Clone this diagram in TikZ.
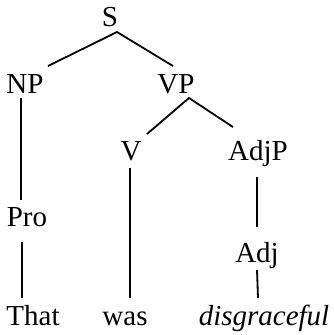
\documentclass[tikz,border=0pt]{standalone}
\usepackage{fontspec}
\setmainfont{Liberation Serif}
\begin{document}
\begin{tikzpicture}[x=1pt,y=-1pt,
  lbl/.style={anchor=base,inner sep=0pt,font=\fontsize{29}{34}\selectfont},
  edge/.style={line width=1.8pt}]
\useasboundingbox (0,0) rectangle (334,335);
\node[lbl] (S) at (110,26) {S};
\node[lbl] (NP) at (25,93) {NP};
\node[lbl] (VP) at (176,93) {VP};
\node[lbl] (V) at (131,160) {V};
\node[lbl] (AdjP) at (258,160) {AdjP};
\node[lbl] (Pro) at (27,226) {Pro};
\node[lbl] (Adj) at (257,262) {Adj};
\node[lbl] (That) at (33,325) {That};
\node[lbl] (was) at (125,325) {was};
\node[lbl] (dis) at (264,325) {\itshape disgraceful};
\draw[edge] ([shift={(23,-27)}]NP.base) -- ([shift={(7,6)}]S.base) -- ([shift={(-3,-27)}]VP.base);
\draw[edge] ([shift={(-4,5)}]NP.base) -- ([shift={(-6,-26)}]Pro.base);
\draw[edge] ([shift={(16,-26)}]V.base) -- ([shift={(13,5)}]VP.base) -- ([shift={(-25,-33)}]AdjP.base);
\draw[edge] ([shift={(-1,8)}]V.base) -- ([shift={(5,-27)}]was.base);
\draw[edge] ([shift={(-1,17)}]AdjP.base) -- ([shift={(0,-35)}]Adj.base);
\draw[edge] ([shift={(0,8)}]Adj.base) -- ([shift={(-6,-27)}]dis.base);
\draw[edge] ([shift={(-5,16)}]Pro.base) -- ([shift={(-11,-27)}]That.base);
\end{tikzpicture}
\end{document}
